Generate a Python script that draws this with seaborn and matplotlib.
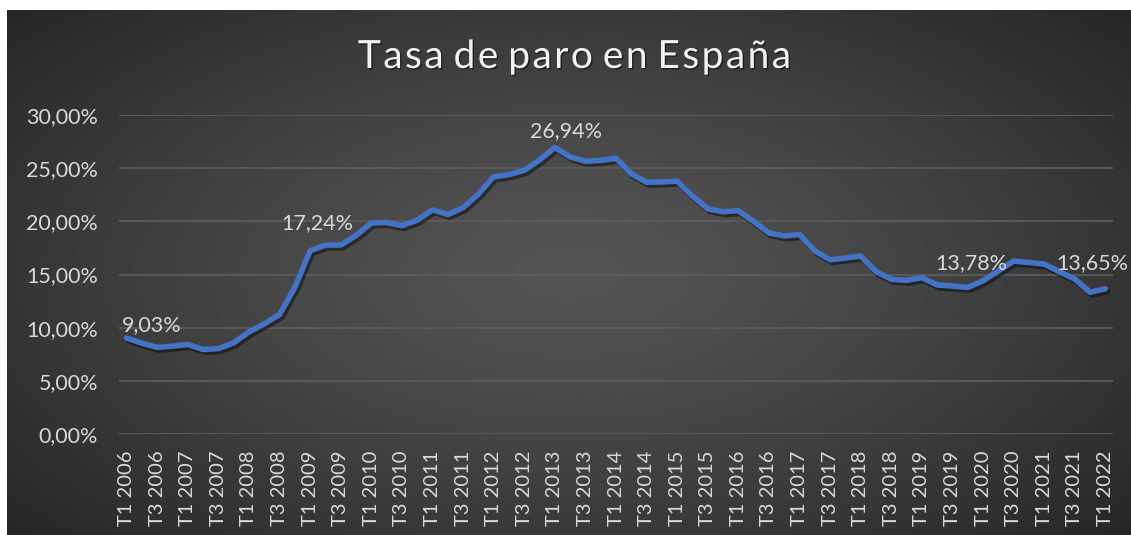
import numpy as np
import pandas as pd
import matplotlib
matplotlib.use('Agg')

import matplotlib.pyplot as plt
import matplotlib.patheffects as pe
from matplotlib.ticker import FuncFormatter
import seaborn as sns

# Datos: tasa de paro EPA, trimestral
years = list(range(2006, 2023))
quarters = [f"T{q} {y}" for y in years for q in (1, 2, 3, 4)][:65]
paro = [
    9.03, 8.53, 8.15, 8.26,
    8.42, 7.95, 8.03, 8.57,
    9.60, 10.36, 11.23, 13.79,
    17.24, 17.77, 17.77, 18.66,
    19.84, 19.89, 19.59, 20.11,
    21.08, 20.64, 21.28, 22.56,
    24.19, 24.40, 24.79, 25.77,
    26.94, 26.06, 25.65, 25.73,
    25.93, 24.47, 23.67, 23.70,
    23.78, 22.37, 21.18, 20.90,
    21.00, 20.00, 18.91, 18.63,
    18.75, 17.22, 16.38, 16.55,
    16.74, 15.28, 14.55, 14.45,
    14.70, 14.02, 13.92, 13.78,
    14.41, 15.33, 16.26, 16.13,
    15.98, 15.26, 14.57, 13.33,
    13.65,
]
# puntos con etiqueta: (indice, desplazamiento en pixeles)
etiquetas = {0: (25, 13), 12: (7, 28), 28: (11, 16), 55: (4, 24), 64: (-13, 26)}

df = pd.DataFrame({"pos": range(len(paro)), "trimestre": quarters, "tasa": paro})

sns.set_style("dark")
plt.rcParams['font.family'] = ['Lato', 'DejaVu Sans']

texto = "#d9d9d9"
fig = plt.figure(figsize=(11.31, 5.35), dpi=100)
fig.patch.set_facecolor("white")

# fondo con degradado radial (estilo Excel)
bg = fig.add_axes([7 / 1131, 0, 1124 / 1131, 525 / 535], zorder=-5)
yy, xx = np.mgrid[-1:1:300j, -1:1:600j]
r = np.sqrt((xx / 1.0) ** 2 + (yy / 1.1) ** 2)
r = np.clip(r / 1.35, 0, 1)
grad = 0.33 - 0.18 * r ** 1.3
bg.imshow(grad, cmap="gray", vmin=0, vmax=1, aspect="auto", extent=[0, 1, 0, 1])
bg.set_axis_off()

ax = fig.add_axes([119 / 1131, 1 - 434 / 535, (1113 - 119) / 1131, (434 - 115) / 535])
ax.set_facecolor("none")

sns.lineplot(data=df, x="pos", y="tasa", ax=ax, color="#4472C4", linewidth=4,
             solid_joinstyle="round", solid_capstyle="round",
             path_effects=[pe.SimpleLineShadow(offset=(1.5, -2), shadow_color="black", alpha=0.45),
                           pe.Normal()])

ax.set_xlim(-0.5, len(paro) - 0.5)
ax.set_ylim(0, 30)
ax.set_yticks(np.arange(0, 31, 5))
ax.yaxis.set_major_formatter(FuncFormatter(lambda v, p: f"{v:.2f}%".replace(".", ",")))
ax.set_xticks(df["pos"][::2])
ax.set_xticklabels(df["trimestre"][::2], rotation=90)
ax.tick_params(axis="y", colors=texto, labelsize=15.5, length=0, pad=15)
ax.tick_params(axis="x", colors=texto, labelsize=14.5, length=0, pad=12)
ax.grid(axis="y", color="#5e5e5e", linewidth=1.2)
ax.grid(axis="x", visible=False)
for s in ax.spines.values():
    s.set_visible(False)
ax.set_xlabel("")
ax.set_ylabel("")

for i, (dx, dy) in etiquetas.items():
    ax.annotate(f"{paro[i]:.2f}%".replace(".", ","), (i, paro[i]), xytext=(dx, dy),
                textcoords="offset pixels", ha="center", va="center",
                fontsize=15.5, color=texto, annotation_clip=False)

titulo = "Tasa de paro en España"
titulo_esp = " ".join("\u200a".join(w) for w in titulo.split(" "))
fig.text(574 / 1131, 1 - 57 / 535, titulo_esp,
         ha="center", va="center", fontsize=28, color="#f2f2f2",
         path_effects=[pe.withSimplePatchShadow(offset=(1, -1), shadow_rgbFace="black", alpha=0.5)])

fig.savefig("out.png", dpi=100, facecolor=fig.get_facecolor())
